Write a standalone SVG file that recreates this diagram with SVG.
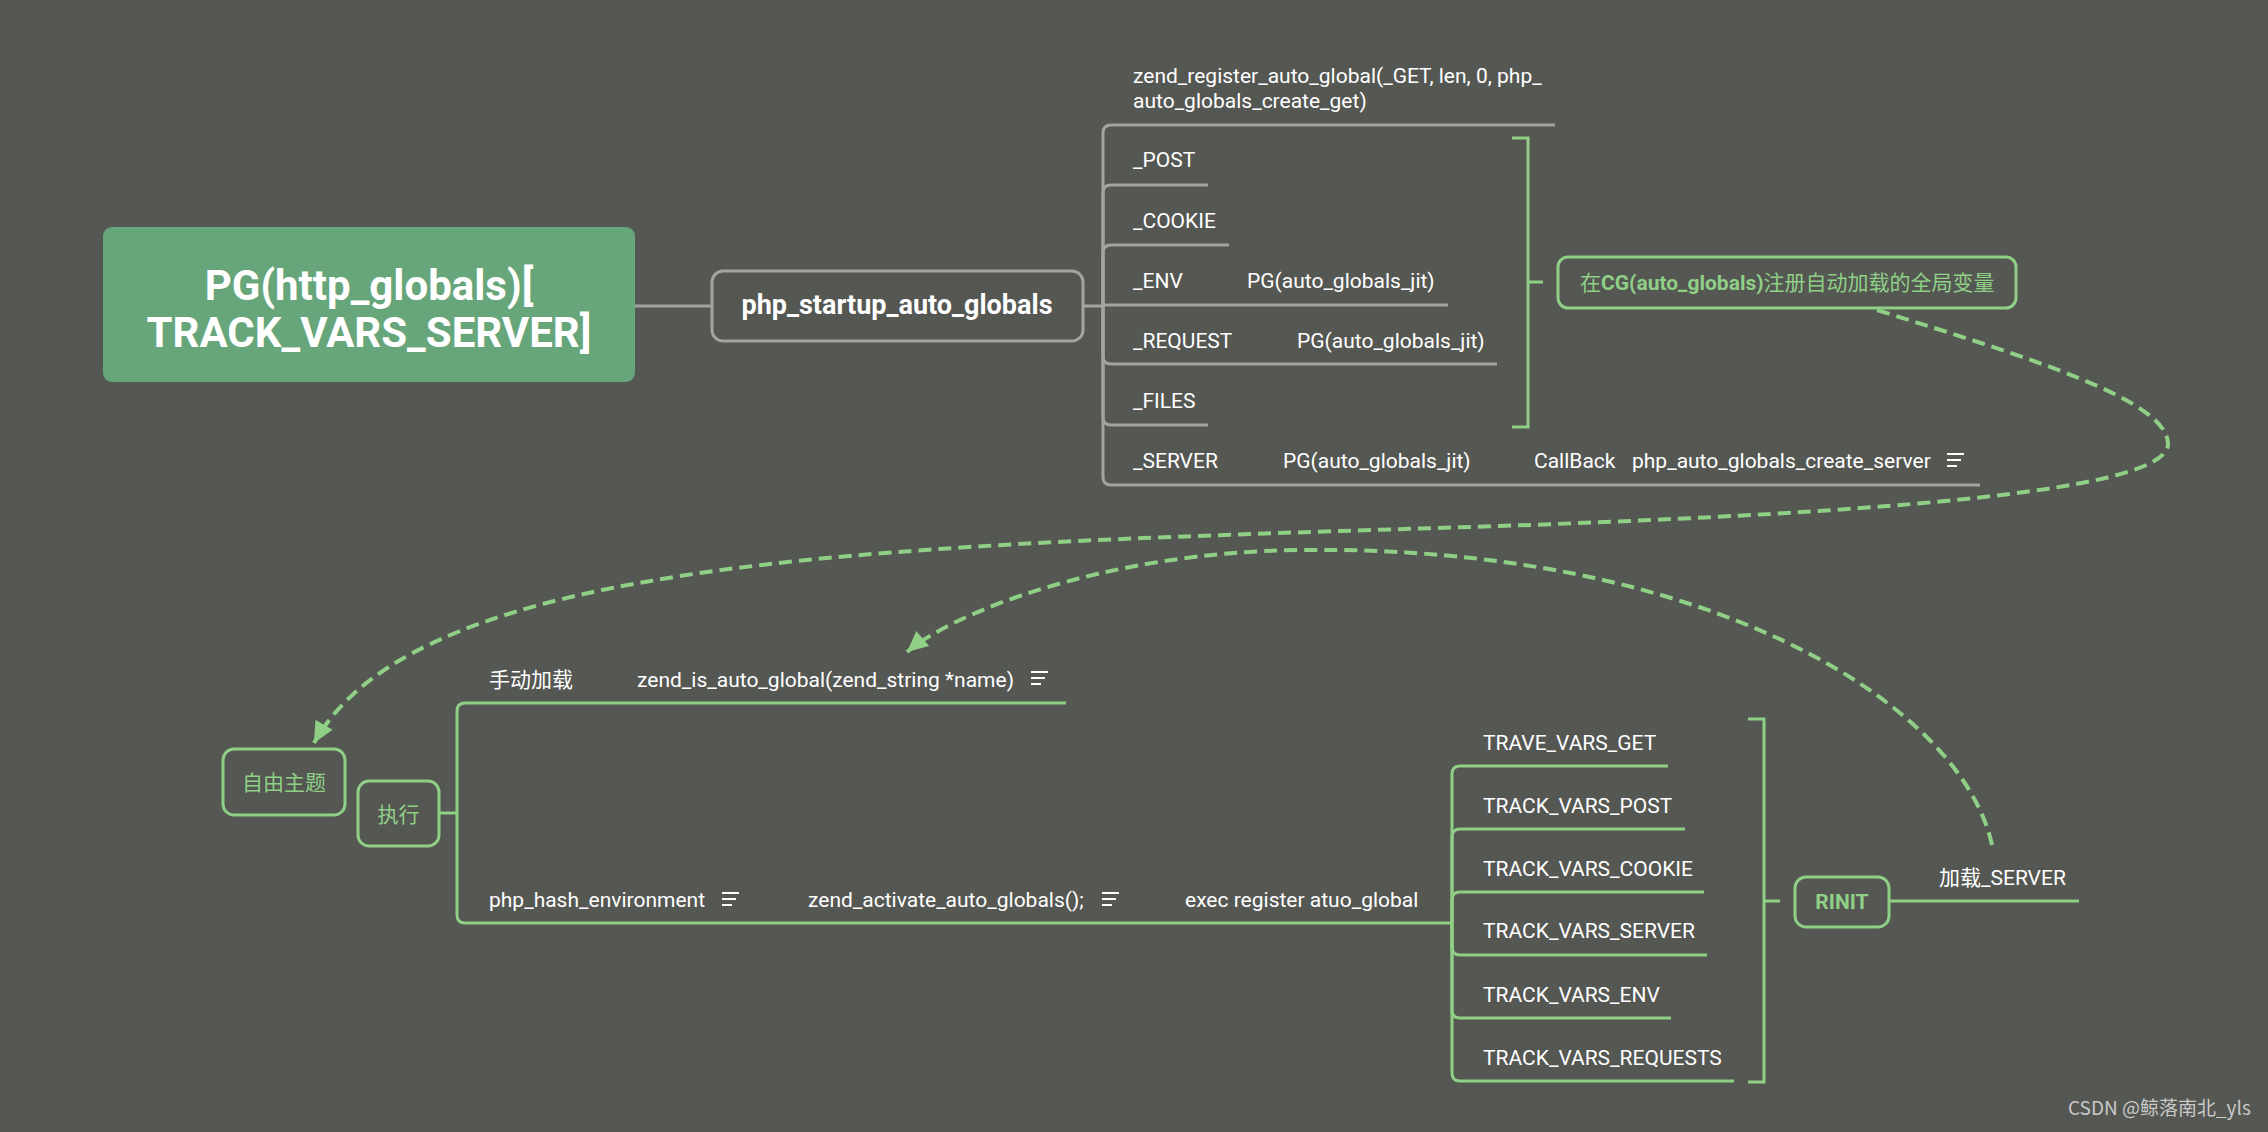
<svg xmlns="http://www.w3.org/2000/svg" xmlns:xlink="http://www.w3.org/1999/xlink" width="2268" height="1132" viewBox="0 0 2268 1132">
<style>
.t{font-family:Roboto,"Noto Sans CJK SC","Liberation Sans",sans-serif;font-size:21px;fill:#ffffff}
.big{font-size:42px;font-weight:bold}
.mid{font-size:27px;font-weight:bold}
.g{stroke:#a3a3a1;stroke-width:3;fill:none}
.gr{stroke:#8fcf86;stroke-width:3;fill:none}
.dash{stroke:#8fcf86;stroke-width:4;fill:none;stroke-dasharray:13 7}
.gt{fill:#8fcf86}
.ic line{stroke:#ffffff;stroke-width:2}
</style>
<defs>
<marker id="ah" markerUnits="userSpaceOnUse" markerWidth="24" markerHeight="24" viewBox="-20 -10 22 20" refX="0" refY="0" orient="auto">
<path d="M0,0 L-19,-9 L-19,9 Z" fill="#8fcf86"/>
</marker>
<g id="note" class="ic"><line x1="0" y1="0" x2="17" y2="0"/><line x1="0" y1="6" x2="14" y2="6"/><line x1="0" y1="12" x2="10" y2="12"/></g>
</defs>
<rect x="0" y="0" width="2268" height="1132" fill="#555753"/>

<g id="connectors">
<path class="g" d="M635,306 H712"/>
<path class="g" d="M1083,306 H1103"/>
<path class="g" d="M1103,306 V133 Q1103,125 1111,125 H1555"/>
<path class="g" d="M1103,306 V193 Q1103,185 1111,185 H1208"/>
<path class="g" d="M1103,306 V253 Q1103,245 1111,245 H1229"/>
<path class="g" d="M1103,305 H1448"/>
<path class="g" d="M1103,306 V356 Q1103,364 1111,364 H1497"/>
<path class="g" d="M1103,306 V417 Q1103,425 1111,425 H1208"/>
<path class="g" d="M1103,306 V477 Q1103,485 1111,485 H1980"/>
<path class="gr" d="M1512,138 H1528 V427 H1512 M1528,282 H1543"/>
<path class="gr" d="M439,813 H457"/>
<path class="gr" d="M457,813 V711 Q457,703 465,703 H1066"/>
<path class="gr" d="M457,813 V915 Q457,923 465,923 H1452"/>
<path class="gr" d="M1452,923 V774 Q1452,766 1460,766 H1668"/>
<path class="gr" d="M1452,923 V837 Q1452,829 1460,829 H1685"/>
<path class="gr" d="M1452,923 V900 Q1452,892 1460,892 H1704"/>
<path class="gr" d="M1452,923 V947 Q1452,955 1460,955 H1707"/>
<path class="gr" d="M1452,923 V1010 Q1452,1018 1460,1018 H1671"/>
<path class="gr" d="M1452,923 V1073 Q1452,1081 1460,1081 H1734"/>
<path class="gr" d="M1748,719 H1764 V1082 H1748 M1764,901 H1780"/>
<path class="gr" d="M1889,901 H2079"/>
<path class="dash" marker-end="url(#ah)" d="M1877,310 C2030,358 2168,400 2168,444 C2168,490 1900,512 1500,526 C900,545 420,552 314,743"/>
<path class="dash" marker-end="url(#ah)" d="M1992,845 C1960,700 1700,545 1302,550 C1100,552 950,615 907,652"/>
</g>

<g id="root">
<rect x="103" y="227" width="532" height="155" rx="9" fill="#67a57b"/>
<text class="t big" x="369" y="300" text-anchor="middle">PG(http_globals)[</text>
<text class="t big" x="369" y="347" text-anchor="middle">TRACK_VARS_SERVER]</text>
</g>

<g id="php_startup">
<rect x="712" y="271" width="371" height="70" rx="11" class="g"/>
<text class="t mid" x="897" y="314" text-anchor="middle">php_startup_auto_globals</text>
</g>

<g id="get"><text class="t" x="1133" y="83">zend_register_auto_global(_GET, len, 0, php_</text><text class="t" x="1133" y="108">auto_globals_create_get)</text></g>
<g id="post"><text class="t" x="1133" y="167">_POST</text></g>
<g id="cookie"><text class="t" x="1133" y="228">_COOKIE</text></g>
<g id="env"><text class="t" x="1133" y="288">_ENV</text><text class="t" x="1247" y="288">PG(auto_globals_jit)</text></g>
<g id="request"><text class="t" x="1133" y="348">_REQUEST</text><text class="t" x="1297" y="348">PG(auto_globals_jit)</text></g>
<g id="files"><text class="t" x="1133" y="408">_FILES</text></g>
<g id="server"><text class="t" x="1133" y="468">_SERVER</text><text class="t" x="1283" y="468">PG(auto_globals_jit)</text><text class="t" x="1534" y="468">CallBack</text><text class="t" x="1632" y="468">php_auto_globals_create_server</text><use xlink:href="#note" x="1947" y="454"/></g>

<g id="cg_note">
<rect x="1558" y="257" width="458" height="51" rx="10" class="gr"/>
<text class="t gt" x="1580" y="290">在<tspan font-weight="bold">CG(auto_globals)</tspan>注册自动加载的全局变量</text>
</g>

<g id="free_topic">
<rect x="223" y="749" width="122" height="66" rx="11" class="gr"/>
<text class="t gt" x="284" y="790" text-anchor="middle">自由主题</text>
</g>

<g id="exec">
<rect x="358" y="781" width="81" height="65" rx="11" class="gr"/>
<text class="t gt" x="398.5" y="822" text-anchor="middle">执行</text>
</g>

<g id="manual"><text class="t" x="489" y="687">手动加载</text><text class="t" x="637" y="687">zend_is_auto_global(zend_string *name)</text><use xlink:href="#note" x="1031" y="672"/></g>
<g id="activate"><text class="t" x="489" y="907">php_hash_environment</text><use xlink:href="#note" x="722" y="893"/><text class="t" x="808" y="907">zend_activate_auto_globals();</text><use xlink:href="#note" x="1102" y="893"/><text class="t" x="1185" y="907">exec register atuo_global</text></g>

<g id="tv_get"><text class="t" x="1483" y="750">TRAVE_VARS_GET</text></g>
<g id="tv_post"><text class="t" x="1483" y="813">TRACK_VARS_POST</text></g>
<g id="tv_cookie"><text class="t" x="1483" y="876">TRACK_VARS_COOKIE</text></g>
<g id="tv_server"><text class="t" x="1483" y="938">TRACK_VARS_SERVER</text></g>
<g id="tv_env"><text class="t" x="1483" y="1002">TRACK_VARS_ENV</text></g>
<g id="tv_requests"><text class="t" x="1483" y="1065">TRACK_VARS_REQUESTS</text></g>

<g id="rinit">
<rect x="1795" y="877" width="94" height="50" rx="11" class="gr"/>
<text class="t gt" x="1842" y="909" text-anchor="middle" font-weight="bold">RINIT</text>
</g>
<g id="load_server"><text class="t" x="1939" y="885">加载_SERVER</text></g>

<text x="2068" y="1115" font-family="'Noto Sans CJK SC','Liberation Sans',sans-serif" font-size="19" fill="#c9c9c9">CSDN @鲸落南北_yls</text>
</svg>
